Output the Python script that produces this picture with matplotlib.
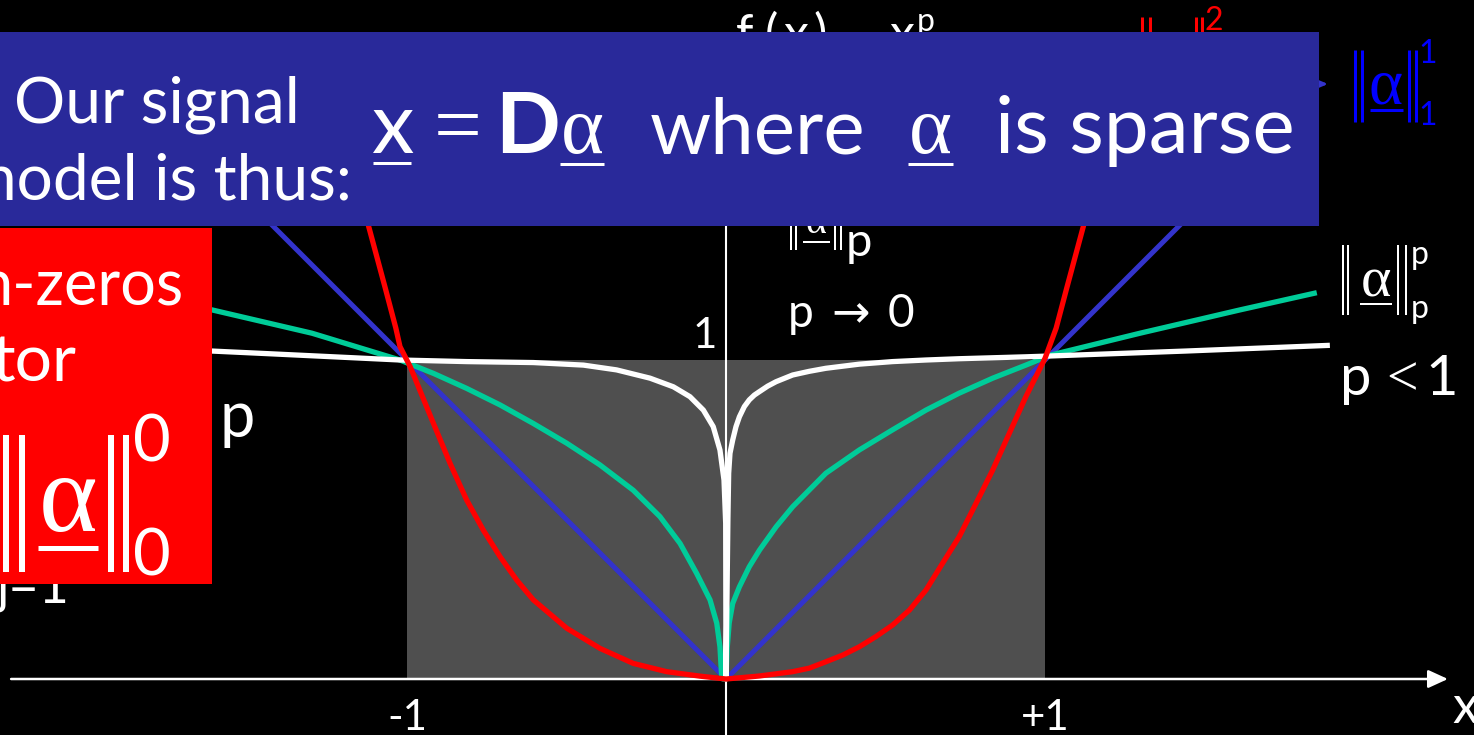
import matplotlib
matplotlib.use("Agg")
import matplotlib.pyplot as plt
from matplotlib.patches import Rectangle

# ---- penalty curves f(x) = |x|^p, sampled on each side of the origin ----
# p = 2 (red)
x_p2_left = [-1.17, -1.12, -1.068, -1.035, -1.022, -0.99, -0.917, -0.865, -0.813, -0.761,
             -0.708, -0.656, -0.604, -0.499, -0.395, -0.291, -0.186, -0.082, 0.0]
y_p2_left = [1.62, 1.418, 1.225, 1.10, 1.042, 0.979, 0.801, 0.676, 0.561, 0.467,
             0.383, 0.310, 0.248, 0.159, 0.096, 0.049, 0.023, 0.009, 0.0]
x_p2_right = [0.0, 0.1045, 0.209, 0.261, 0.313, 0.366, 0.418, 0.470, 0.522, 0.575, 0.627,
              0.679, 0.731, 0.784, 0.836, 0.888, 0.940, 0.982, 1.0, 1.035, 1.068, 1.12, 1.17]
y_p2_right = [0.0, 0.0094, 0.023, 0.034, 0.054, 0.075, 0.101, 0.133, 0.169, 0.216, 0.279,
              0.363, 0.446, 0.551, 0.655, 0.770, 0.885, 0.969, 1.005, 1.10, 1.225, 1.418, 1.62]
# p = 1 (blue)
x_p1 = [-1.6, 0.0, 1.6]
y_p1 = [1.6, 0.0, 1.6]
# p < 1 (green)
x_pl_left = [-1.852, -1.611, -1.298, -1.022, -0.917, -0.813, -0.708, -0.604, -0.499,
             -0.395, -0.291, -0.207, -0.144, -0.092, -0.050, -0.029, -0.019, -0.0136, -0.01]
y_pl_left = [1.211, 1.157, 1.084, 1.0, 0.958, 0.911, 0.859, 0.801, 0.739,
             0.671, 0.592, 0.509, 0.425, 0.331, 0.248, 0.175, 0.101, 0.007, 0.0]
x_pl_right = [0.0, 0.004, 0.010, 0.021, 0.042, 0.073, 0.105, 0.157, 0.209, 0.313, 0.418,
              0.522, 0.627, 0.731, 0.836, 0.940, 1.016, 1.298, 1.611, 1.852]
y_pl_right = [0.0, 0.10, 0.175, 0.237, 0.289, 0.352, 0.404, 0.477, 0.540, 0.645, 0.718,
              0.781, 0.843, 0.896, 0.943, 0.984, 1.015, 1.084, 1.157, 1.211]
# p -> 0 (white)
x_p0_left = [-1.9, -1.61, -1.439, -1.022, -0.813, -0.604, -0.447, -0.343, -0.238, -0.165,
             -0.113, -0.071, -0.040, -0.019, -0.0063, -0.001, 0.0]
y_p0_left = [1.04, 1.028, 1.02, 1.0, 0.995, 0.992, 0.984, 0.969, 0.943, 0.916,
             0.885, 0.843, 0.791, 0.718, 0.624, 0.488, 0.0]
x_p0_right = [0.0, 0.003, 0.006, 0.0084, 0.0125, 0.021, 0.0313, 0.042, 0.0575, 0.073, 0.0888,
              0.105, 0.1306, 0.157, 0.209, 0.261, 0.313, 0.418, 0.522, 0.627, 0.731, 0.836,
              0.940, 1.0, 1.439, 1.893]
y_p0_right = [0.0, 0.25, 0.5, 0.645, 0.7075, 0.749, 0.791, 0.822, 0.854, 0.875, 0.890,
              0.901, 0.918, 0.932, 0.953, 0.9645, 0.974, 0.987, 0.995, 1.0, 1.004, 1.007,
              1.010, 1.012, 1.028, 1.046]

# unit square shown in grey, axis ticks
box_x = [-1.0, 1.0]
box_y = [0.0, 1.0]
tick_pos = [-1.0, 1.0]
tick_labels = ["-1", "+1"]
ytick_label = "1"

# ---- figure setup ----
W, H, DPI = 1474, 735, 100
UNIT, OX, OY = 319.0, 726.0, 679.0   # pixels per unit and origin position

fig = plt.figure(figsize=(W / DPI, H / DPI), dpi=DPI, facecolor="black")
ax = fig.add_axes([0, 0, 1, 1])
ax.set_facecolor("black")
ax.axis("off")
ax.set_autoscale_on(False)
ax.set_xlim(-OX / UNIT, (W - OX) / UNIT)
ax.set_ylim((OY - H) / UNIT, OY / UNIT)

RED = "#ff0000"
BLUE_LINE = "#3333cc"
GREEN = "#00cc99"
GREY = "#4f4f4f"
PANEL = "#29299a"
NORM_BLUE = "#0000ff"


def pt(px):
    return px * 72.0 / DPI


def fx(px):
    return px / W


def fy(py):
    return 1 - py / H


def txt(px, py, s, em, color="white", family="Lato", ha="left", weight="normal", z=5):
    ax.text(fx(px), fy(py), s, transform=ax.transAxes, fontsize=pt(em),
            color=color, family=family, ha=ha, va="baseline", fontweight=weight,
            zorder=z, clip_on=False)


def hline(px0, px1, py, lw, color="white", z=5):
    ax.plot([fx(px0), fx(px1)], [fy(py)] * 2, transform=ax.transAxes,
            color=color, lw=pt(lw), solid_capstyle="butt", zorder=z, clip_on=False)


def bars(pxs, py0, py1, lw, color="white", z=5):
    for px in pxs:
        ax.plot([fx(px)] * 2, [fy(py0), fy(py1)], transform=ax.transAxes,
                color=color, lw=pt(lw), solid_capstyle="butt", zorder=z, clip_on=False)


# ---- plot area ----
ax.add_patch(Rectangle((box_x[0], box_y[0]), box_x[1] - box_x[0], box_y[1] - box_y[0],
                       facecolor=GREY, edgecolor="none", zorder=1))

# axes
ax.annotate("", xy=(2.263, 0), xytext=(-2.241, 0),
            arrowprops=dict(arrowstyle="-|>,head_length=1.2,head_width=0.55",
                            color="white", lw=1.8, mutation_scale=10,
                            shrinkA=0, shrinkB=0), zorder=2)
ax.plot([0, 0], [(OY - H) / UNIT, 1.45], color="white", lw=1.5, zorder=2)

# curves
lw_curve = 3.8
kw = dict(solid_joinstyle="round", solid_capstyle="butt")
ax.plot(x_p1, y_p1, color=BLUE_LINE, lw=3.6, zorder=3, **kw)
ax.plot(x_pl_left + x_pl_right, y_pl_left + y_pl_right, color=GREEN, lw=lw_curve,
        zorder=3.1, **kw)
ax.plot(x_p0_left + x_p0_right[1:], y_p0_left + y_p0_right[1:], color="white",
        lw=lw_curve, zorder=3.2, **kw)
ax.plot(x_p2_left + x_p2_right[1:], y_p2_left + y_p2_right[1:], color=RED, lw=lw_curve,
        zorder=3.3, **kw)

# pointer towards the l1 label (mostly under the panel)
ax.annotate("", xy=((1328 - OX) / UNIT, (OY - 84) / UNIT),
            xytext=((1270 - OX) / UNIT, (OY - 84) / UNIT),
            arrowprops=dict(arrowstyle="-|>,head_length=0.9,head_width=0.38",
                            color=BLUE_LINE, lw=2.0, mutation_scale=10,
                            shrinkA=0, shrinkB=0), zorder=3)

# tick labels
for xv, lab in zip(tick_pos, tick_labels):
    ax.text(xv, (OY - 730) / UNIT, lab, fontsize=pt(42), color="white", family="Lato",
            ha="center", va="baseline", zorder=5)
txt(717, 348, ytick_label, 42, ha="right")
txt(1452, 723, "x", 52)

# curve annotations
txt(788, 327, "p", 46)
txt(851, 327, "\u2192", 46, family="DejaVu Sans", ha="center")
txt(888, 327, "0", 46)

# ||a||_p partly hidden under the panel
bars([791, 796], 215, 250, 2)
txt(816, 233, "\u03b1", 40, family="Liberation Serif", ha="center", z=4)
hline(803, 830, 242, 2)
bars([835, 841], 215, 250, 2)
txt(846, 256, "p", 47)

# ||a||_p^p
bars([1343, 1348], 245, 315, 2)
txt(1376, 297, "\u03b1", 58, family="Liberation Serif", ha="center")
hline(1360, 1392, 304, 2)
bars([1398, 1406], 245, 315, 2)
txt(1411, 264, "p", 32)
txt(1411, 318, "p", 32)

txt(1340, 395, "p", 56)
txt(1402, 395, "<", 56, family="Liberation Serif", ha="center")
txt(1458, 395, "1", 56, ha="right")

# ||a||_1^1 (blue)
bars([1355, 1362], 50, 122, 3, color=NORM_BLUE)
txt(1386, 103, "\u03b1", 65, family="Liberation Serif", ha="center", color=NORM_BLUE)
hline(1370, 1403, 110, 3, color=NORM_BLUE)
bars([1409, 1416], 50, 122, 3, color=NORM_BLUE)
txt(1428, 63, "1", 32, ha="center", color=NORM_BLUE)
txt(1428, 125, "1", 32, ha="center", color=NORM_BLUE)

# ||a||_2^2 (red), top part above the panel
bars([1142, 1150], 17, 60, 3, color=RED, z=4)
bars([1196, 1202], 17, 60, 3, color=RED, z=4)
txt(1214, 30, "2", 32, ha="center", color=RED, z=4)

# f(x) = x^p, mostly hidden by the panel
txt(736, 50, "f", 50, z=4)
txt(765, 50, "(", 50, z=4)
txt(783, 50, "x", 50, z=4)
txt(813, 50, ")", 50, z=4)
txt(858, 54, "=", 50, family="Liberation Serif", ha="center", z=4)
txt(889, 50, "x", 50, z=4)
txt(917, 31, "p", 32, z=4)

# left-hand text under / beside the red panel
txt(220, 437, "p", 63)
txt(-3, 603, "j=1", 52, z=4)

# ---- red panel ----
ax.add_patch(Rectangle((0, fy(584)), 212 / W, (584 - 228) / H, transform=ax.transAxes,
                       facecolor=RED, edgecolor="none", zorder=10, clip_on=False))
txt(184, 305, "n-zeros", 63, ha="right", z=11)
txt(77, 382, "tor", 66, ha="right", z=11)
bars([6, 22], 435, 572, 6, z=11)
txt(68, 531, "\u03b1", 112, family="Liberation Serif", ha="center", z=11)
hline(38, 98, 548, 5, z=11)
bars([111, 126], 435, 572, 6, z=11)
txt(152, 461, "0", 65, ha="center", z=11)
txt(152, 576, "0", 65, ha="center", z=11)

# ---- blue panel ----
ax.add_patch(Rectangle((0, fy(226)), 1319 / W, (226 - 32) / H, transform=ax.transAxes,
                       facecolor=PANEL, edgecolor="none", zorder=10, clip_on=False))
txt(14, 123, "Our signal", 64, z=11)
txt(352, 199, "model is thus:", 64, ha="right", z=11)
txt(371, 153, "x", 85, z=11)
hline(373, 411, 163, 3, z=11)
txt(458, 153, "=", 85, family="Liberation Serif", ha="center", z=11)
txt(495, 153, "D", 85, weight="bold", z=11)
txt(582, 153, "\u03b1", 82, family="Liberation Serif", ha="center", z=11)
hline(560, 604, 164, 3, z=11)
txt(650, 153, "where", 78, z=11)
txt(930, 153, "\u03b1", 82, family="Liberation Serif", ha="center", z=11)
hline(908, 953, 164, 3, z=11)
txt(995, 153, "is sparse", 80, z=11)

fig.savefig("out.png", dpi=DPI, facecolor="black")
